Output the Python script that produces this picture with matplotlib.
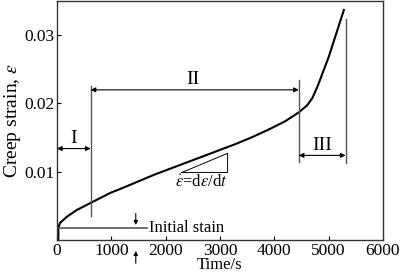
import matplotlib
matplotlib.use("Agg")
import matplotlib.pyplot as plt

plt.rcParams["font.family"] = ["Liberation Serif", "DejaVu Serif"]
plt.rcParams["mathtext.fontset"] = "stix"

# creep curve
time_s = [25, 25, 55, 180, 365, 610, 980, 1200, 1500, 1800, 2100, 2400,
          2700, 3000, 3300, 3600, 3900, 4200, 4450, 4600, 4700, 4800, 5000, 5280]
strain = [0, 0.00175, 0.0025, 0.0034, 0.0044, 0.0054, 0.0069, 0.0076,
          0.0086, 0.0096, 0.0105, 0.0114, 0.0123, 0.0132, 0.0141, 0.0151,
          0.0162, 0.0174, 0.0187, 0.0197, 0.0208, 0.0226, 0.0268, 0.0337]

# stage boundaries
t_stage = [0, 620, 4450, 5310]
stage_labels = ["I", "II", "III"]
initial_strain = 0.00175
x_ticks = [0, 1000, 2000, 3000, 4000, 5000, 6000]
y_ticks = [0.01, 0.02, 0.03]

gray = "#555555"

fig = plt.figure(figsize=(4.0, 2.74), dpi=100)
ax = fig.add_axes([0.1425, 0.124, 0.815, 0.872])

ax.plot(time_s, strain, color="black", lw=1.5)

# stage boundary lines
ax.plot([t_stage[1]] * 2, [0.0035, 0.0226], color=gray, lw=1)
ax.plot([t_stage[2]] * 2, [0.0114, 0.0234], color=gray, lw=1)
ax.plot([t_stage[3]] * 2, [0.0113, 0.0324], color=gray, lw=1)

arrow = dict(arrowstyle="<|-|>", mutation_scale=7, color="black", lw=0.8,
             shrinkA=0, shrinkB=0)
ax.annotate("", xy=(t_stage[0], 0.0134), xytext=(t_stage[1], 0.0134), arrowprops=arrow)
ax.annotate("", xy=(t_stage[1], 0.0220), xytext=(t_stage[2], 0.0220), arrowprops=arrow)
ax.annotate("", xy=(t_stage[2], 0.0124), xytext=(t_stage[3], 0.0124), arrowprops=arrow)
ax.text(300, 0.0136, stage_labels[0], ha="center", va="bottom", fontsize=14)
ax.text(2500, 0.0222, stage_labels[1], ha="center", va="bottom", fontsize=14)
ax.text(4880, 0.0126, stage_labels[2], ha="center", va="bottom", fontsize=14)

# slope triangle
ax.plot([2300, 3140, 3140, 2300], [0.0099, 0.0127, 0.0099, 0.0099], color="black", lw=0.7)
ax.text(2650, 0.0085, r"$\dot{\varepsilon}$=d$\varepsilon$/d$t$", ha="center", va="center", fontsize=12)

# initial strain
ax.plot([25, 1650], [initial_strain] * 2, color=gray, lw=1.2)
small = dict(arrowstyle="-|>", mutation_scale=6, color="black", lw=0.8, shrinkA=0, shrinkB=0)
ax.annotate("", xy=(1450, 0.0022), xytext=(1450, 0.0039), arrowprops=small)
ax.annotate("", xy=(1450, -0.0016), xytext=(1450, -0.0034), arrowprops=small,
            annotation_clip=False)
ax.text(1700, initial_strain, "Initial stain", ha="left", va="center", fontsize=12)

ax.set_xlim(0, 6000)
ax.set_ylim(0, 0.035)
ax.set_xticks(x_ticks)
ax.set_yticks(y_ticks)
ax.tick_params(direction="in", labelsize=12.5, length=3, colors="black", pad=2)
for s in ax.spines.values():
    s.set_color("#333333")
    s.set_linewidth(1)
ax.set_xlabel("Time/s", fontsize=12, labelpad=-1)
ax.set_ylabel(r"Creep strain, $\varepsilon$", fontsize=14, labelpad=1)

fig.savefig("out.png", dpi=100)
